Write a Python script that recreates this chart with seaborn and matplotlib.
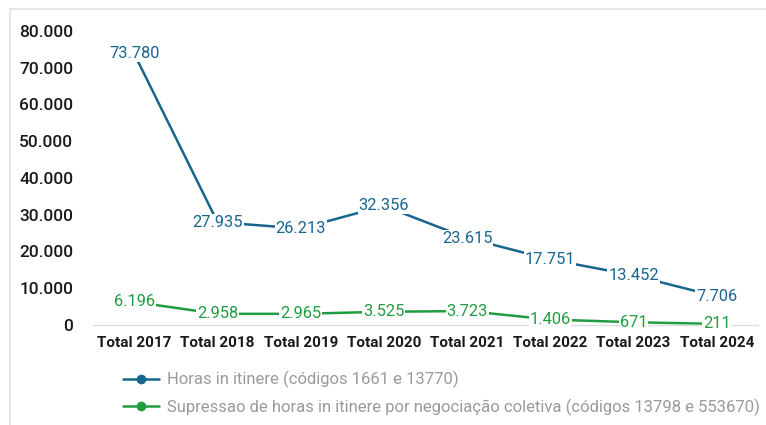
import matplotlib
matplotlib.use("Agg")
import matplotlib.pyplot as plt
from matplotlib.lines import Line2D
import seaborn as sns
import pandas as pd

categories = ["Total 2017", "Total 2018", "Total 2019", "Total 2020",
              "Total 2021", "Total 2022", "Total 2023", "Total 2024"]
horas_itinere = [73780, 27935, 26213, 32356, 23615, 17751, 13452, 7706]
supressao = [6196, 2958, 2965, 3525, 3723, 1406, 671, 211]
series_names = ["Horas in itinere (códigos 1661 e 13770)",
                "Supressao de horas in itinere por negociação coletiva (códigos 13798 e 553670)"]
y_ticks = [0, 10000, 20000, 30000, 40000, 50000, 60000, 70000, 80000]

colors = ["#186590", "#1f9d3f"]

df = pd.DataFrame({
    "cat": categories * 2,
    "val": horas_itinere + supressao,
    "serie": [series_names[0]] * len(categories) + [series_names[1]] * len(categories),
})

sns.set_theme(style="white")
plt.rcParams["font.family"] = ["Roboto", "DejaVu Sans"]

fig = plt.figure(figsize=(7.66, 4.25), dpi=100)
ax = fig.add_axes([0.121, 0.236, 0.869, 0.691])

sns.lineplot(data=df, x="cat", y="val", hue="serie", palette=colors,
             marker="o", markersize=7, linewidth=1.8, ax=ax, sort=False,
             markeredgewidth=0)

# value labels with white boxes hiding the points
for s, vals, c in zip(series_names, [horas_itinere, supressao], colors):
    for i, v in enumerate(vals):
        lbl = f"{v:,}".replace(",", ".")
        ax.text(i, v, lbl, ha="center", va="center", fontsize=11.8, color=c,
                zorder=5, bbox=dict(boxstyle="square,pad=0.05", fc="white", ec="none"))

ax.set_xlim(-0.5, len(categories) - 0.5)
ax.set_ylim(0, 80000)
ax.set_yticks(y_ticks)
ax.set_yticklabels([f"{t:,}".replace(",", ".") for t in y_ticks],
                   fontsize=12.5, fontweight="medium", color="#1a1a1a")
ax.set_xticks(range(len(categories)))
ax.set_xticklabels(categories, fontsize=11, fontweight="bold", color="#1a1a1a")
ax.tick_params(axis="y", length=0, pad=14)
ax.tick_params(axis="x", length=0, pad=8)
ax.set_xlabel("")
ax.set_ylabel("")
for sp in ["top", "right", "left"]:
    ax.spines[sp].set_visible(False)
ax.spines["bottom"].set_color("#dddddd")
ax.spines["bottom"].set_linewidth(1)
ax.grid(False)

leg = ax.legend(loc="upper left", bbox_to_anchor=(0.035, -0.135), frameon=False,
                fontsize=12, handlelength=2.2, handletextpad=0.45, labelspacing=0.6,
                borderaxespad=0)
for t in leg.get_texts():
    t.set_color("#9a9a9a")

# figure border (light gray, left and top)
fig.add_artist(Line2D([10 / 766, 10 / 766], [0, 1 - 9 / 425], color="#e2e2e2", lw=1.2,
                      transform=fig.transFigure))
fig.add_artist(Line2D([10 / 766, 1], [1 - 9 / 425, 1 - 9 / 425], color="#e2e2e2", lw=1.2,
                      transform=fig.transFigure))

fig.savefig("out.png", dpi=100, facecolor="white")
